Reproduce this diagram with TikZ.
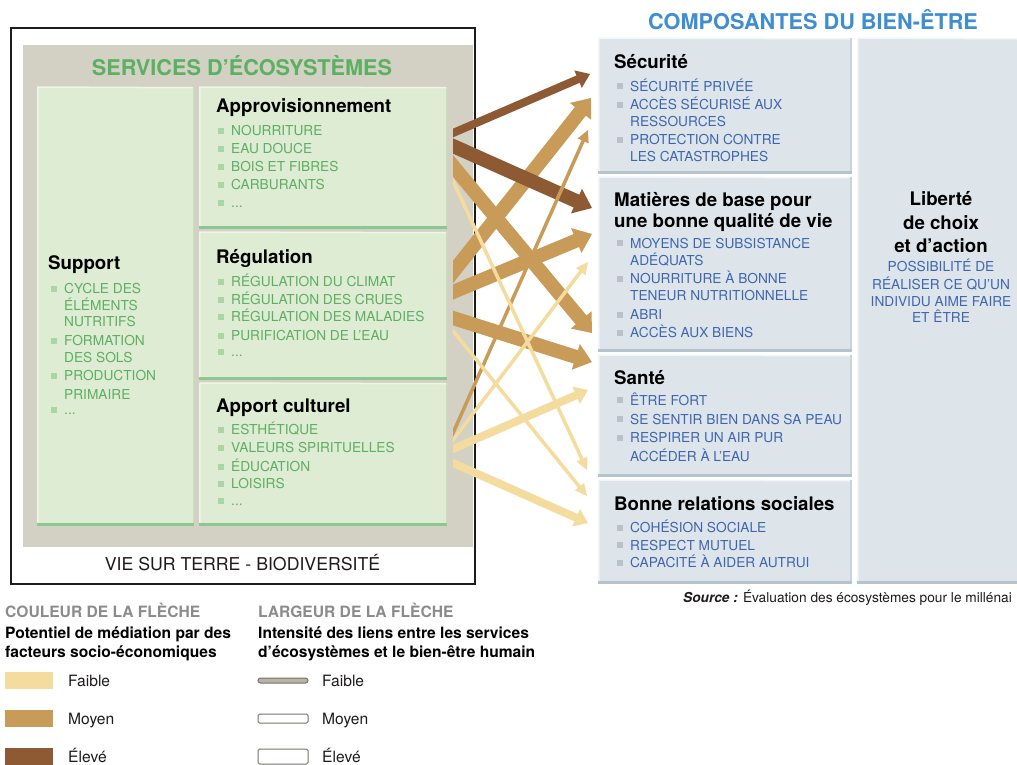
\documentclass[tikz,border=0pt]{standalone}
\usepackage{fontspec}
\setmainfont{TeX Gyre Heros}
\usetikzlibrary{calc}

% palette
\definecolor{shellGrey}{HTML}{D3D1C4}
\definecolor{leafFill}{HTML}{DDECD3}
\definecolor{leafHi}{HTML}{EEF6E8}
\definecolor{leafSide}{HTML}{C8DEBE}
\definecolor{leafEdge}{HTML}{8CC78D}
\definecolor{leafText}{HTML}{5EAE63}
\definecolor{leafBullet}{HTML}{AAD6A4}
\definecolor{titleGreen}{HTML}{5CB062}
\definecolor{skyFill}{HTML}{DEE5EA}
\definecolor{skyHi}{HTML}{F3F6F8}
\definecolor{skySide}{HTML}{C9D3DA}
\definecolor{skyEdge}{HTML}{B5C3CC}
\definecolor{skyText}{HTML}{3E66AF}
\definecolor{skyBullet}{HTML}{B8C3C9}
\definecolor{titleBlue}{HTML}{3F8ED1}
\definecolor{linkLow}{HTML}{F3DC9E}
\definecolor{linkMid}{HTML}{C99B58}
\definecolor{linkHigh}{HTML}{8E5A33}
\definecolor{legendGrey}{HTML}{8B8B8B}
\definecolor{inkDark}{HTML}{1E1B1A}
\definecolor{barFill}{HTML}{B9B3A5}
\definecolor{barLine}{HTML}{77726A}

\newcommand\etcdots{...}

% raised-panel edges of a box node
\newcommand\leafbevel[1]{%
  \draw[leafHi, line width=1.5pt] ([xshift=.75pt]#1.south west) -- ([xshift=.75pt]#1.north west) -- ([yshift=-.75pt]#1.north east);
  \draw[leafSide, line width=1.5pt] ([xshift=-.75pt]#1.north east) -- ([xshift=-.75pt]#1.south east);
  \draw[leafEdge, line width=3.5pt] ([yshift=1.75pt]#1.south west) -- ([yshift=1.75pt]#1.south east);
}
\newcommand\skybevel[1]{%
  \draw[skyHi, line width=1.5pt] ([xshift=.75pt]#1.south west) -- ([xshift=.75pt]#1.north west) -- ([yshift=-.75pt]#1.north east);
  \draw[skySide, line width=2pt] ([xshift=-1pt]#1.north east) -- ([xshift=-1pt]#1.south east);
  \draw[skyEdge, line width=3pt] ([yshift=1.5pt]#1.south west) -- ([yshift=1.5pt]#1.south east);
}

% bulleted list: name prefix, text x, palette (leaf/sky), entries y/text/bullet
\newcommand\itemlist[4]{%
  \foreach \yy/\txt/\bul [count=\k] in {#4} {
    \node[#3item] (#1-\k) at (#2,\yy) {\txt};
    \ifnum\bul=1 \fill[#3bullet] ($(#1-\k.west)+(-13,-3)$) rectangle ++(6,6); \fi
  }
}

% arrow from s<idx> to t<idx>: idx, colour, shaft width, head length, head half width, shaft stop
\newcommand\flow[6]{%
  \draw[#2, line width=#3] ($(s#1)!-0.08!(t#1)$) -- ($(t#1)!#6!(s#1)$);
  \fill[#2] (t#1) -- ($(t#1)!#4!(s#1)!#5!90:(t#1)$) -- ($(t#1)!#4!(s#1)!#5!-90:(t#1)$) -- cycle;
}
\newcommand\flowwide[2]{\flow{#1}{#2}{14pt}{17pt}{13.5pt}{16pt}}
\newcommand\flowmid[2]{\flow{#1}{#2}{8pt}{13pt}{9.5pt}{12pt}}
\newcommand\flowthin[2]{\flow{#1}{#2}{3.5pt}{12pt}{6pt}{11pt}}

\tikzset{
  leafbox/.style={fill=leafFill, anchor=north west, inner sep=0pt, outer sep=0pt},
  skybox/.style={fill=skyFill, anchor=north west, inner sep=0pt, outer sep=0pt},
  itemtext/.style={anchor=west, inner sep=0pt, font=\fontsize{13.7}{16}\selectfont, text height=9.9pt, text depth=0pt},
  leafitem/.style={itemtext, text=leafText},
  skyitem/.style={itemtext, text=skyText},
  leafbullet/.style={fill=leafBullet},
  skybullet/.style={fill=skyBullet},
  headtext/.style={anchor=west, inner sep=0pt, text=black, font=\fontsize{18.7}{22}\selectfont\bfseries, text height=13.4pt, text depth=0pt},
  bigtitle/.style={inner sep=0pt, font=\fontsize{21.7}{25}\selectfont\bfseries, text height=15.6pt, text depth=0pt},
  legendhead/.style={anchor=west, inner sep=0pt, font=\fontsize{15.6}{18}\selectfont\bfseries, text height=11.2pt, text depth=0pt},
  legendtext/.style={anchor=west, inner sep=0pt, text=inkDark, font=\fontsize{15.6}{18}\selectfont, text height=11.2pt, text depth=0pt},
  swatch/.style={inner sep=0pt, minimum width=48pt, minimum height=17pt},
  widthbar/.style={inner sep=0pt, minimum width=50pt, line width=1pt, draw=barLine}
}

\begin{document}
\begin{tikzpicture}[x=1pt,y=-1pt]
\useasboundingbox (0,0) rectangle (1017,764);
\fill[white] (0,0) rectangle (1017,764);

% ---------- ecosystem services ----------
\node[fill=shellGrey, anchor=north west, inner sep=0pt, minimum width=450pt, minimum height=502pt] (services) at (23,45) {};
\node[leafbox, minimum width=157pt, minimum height=439pt] (support) at (37,87) {};
\node[leafbox, minimum width=248pt, minimum height=142pt] (appro) at (199,87) {};
\node[leafbox, minimum width=248pt, minimum height=148pt] (regul) at (199,232) {};
\node[leafbox, minimum width=248pt, minimum height=143pt] (culture) at (199,383) {};
\leafbevel{support}
\leafbevel{appro}
\leafbevel{regul}
\leafbevel{culture}

\node[draw=inkDark, line width=2pt, anchor=north west, inner sep=0pt, minimum width=463.5pt, minimum height=556pt] (lifeframe) at (10.2,26.7) {};

\node[bigtitle, text=titleGreen] (servicesTitle) at (242,67.7) {SERVICES D’ÉCOSYSTÈMES};
\node[inner sep=0pt, text=inkDark, font=\fontsize{17.7}{20}\selectfont, text height=12.7pt, text depth=0pt] (lifeTitle) at (242.5,564) {VIE SUR TERRE - BIODIVERSITÉ};

\node[headtext] (supportHead) at (48,262.5) {Support};
\node[headtext] (approHead) at (216,106) {Approvisionnement};
\node[headtext] (regulHead) at (216,256.5) {Régulation};
\node[headtext] (cultureHead) at (216,406) {Apport culturel};

\itemlist{sup}{64}{leaf}{289/CYCLE DES/1, 305.5/ÉLÉMENTS/0, 322/NUTRITIFS/0, 341/FORMATION/1, 358/DES SOLS/0, 376/PRODUCTION/1, 395/PRIMAIRE/0, 410/\etcdots/1}
\itemlist{apr}{231}{leaf}{130.5/NOURRITURE/1, 149/EAU DOUCE/1, 167/BOIS ET FIBRES/1, 184.5/CARBURANTS/1, 203/\etcdots/1}
\itemlist{reg}{231}{leaf}{282/RÉGULATION DU CLIMAT/1, 300/RÉGULATION DES CRUES/1, 317/RÉGULATION DES MALADIES/1, 335.5/PURIFICATION DE L'EAU/1, 352/\etcdots/1}
\itemlist{cul}{231}{leaf}{430/ESTHÉTIQUE/1, 448/VALEURS SPIRITUELLES/1, 466.5/ÉDUCATION/1, 484/LOISIRS/1, 501/\etcdots/1}

% ---------- components of well-being ----------
\node[bigtitle, text=titleBlue] (wellTitle) at (813,21.3) {COMPOSANTES DU BIEN-ÊTRE};

\node[skybox, minimum width=254pt, minimum height=136pt] (security) at (598,38) {};
\node[skybox, minimum width=254pt, minimum height=175pt] (material) at (598,177) {};
\node[skybox, minimum width=254pt, minimum height=122pt] (health) at (598,355) {};
\node[skybox, minimum width=254pt, minimum height=104pt] (social) at (598,480) {};
\node[skybox, minimum width=160pt, minimum height=546pt] (freedom) at (857,38) {};
\skybevel{security}
\skybevel{material}
\skybevel{health}
\skybevel{social}
\draw[skyHi, line width=1.5pt] ([xshift=.75pt]freedom.south west) -- ([xshift=.75pt]freedom.north west) -- ([yshift=-.75pt]freedom.north east);
\draw[skyEdge, line width=3pt] ([yshift=1.5pt]freedom.south west) -- ([yshift=1.5pt]freedom.south east);

\node[headtext] (securityHead) at (614,61.7) {Sécurité};
\node[headtext] (materialHeadA) at (614,200) {Matières de base pour};
\node[headtext] (materialHeadB) at (614,221) {une bonne qualité de vie};
\node[headtext] (healthHead) at (614,377.5) {Santé};
\node[headtext] (socialHead) at (614,504) {Bonne relations sociales};

\itemlist{sec}{630}{sky}{86.3/SÉCURITÉ PRIVÉE/1, 104.7/ACCÈS SÉCURISÉ AUX/1, 121.3/RESSOURCES/0, 140/PROTECTION CONTRE/1, 157/LES CATASTROPHES/0}
\itemlist{mat}{630}{sky}{243.3/MOYENS DE SUBSISTANCE/1, 260.3/ADÉQUATS/0, 279/NOURRITURE À BONNE/1, 296/TENEUR NUTRITIONNELLE/0, 314.5/ABRI/1, 332.7/ACCÈS AUX BIENS/1}
\itemlist{hea}{630}{sky}{400.3/ÊTRE FORT/1, 419.3/SE SENTIR BIEN DANS SA PEAU/1, 437.7/RESPIRER UN AIR PUR/1, 456.3/ACCÉDER À L'EAU/0}
\itemlist{soc}{630}{sky}{528/COHÉSION SOCIALE/1, 545.3/RESPECT MUTUEL/1, 563/CAPACITÉ À AIDER AUTRUI/1}

\node[headtext, anchor=center] (freedomA) at (941,199) {Liberté};
\node[headtext, anchor=center] (freedomB) at (941,222.5) {de choix};
\node[headtext, anchor=center] (freedomC) at (941,246) {et d'action};
\node[skyitem, anchor=center] (freedomD) at (941,266.3) {POSSIBILITÉ DE};
\node[skyitem, anchor=center] (freedomE) at (941,284.7) {RÉALISER CE QU'UN};
\node[skyitem, anchor=center] (freedomF) at (941,301.3) {INDIVIDU AIME FAIRE};
\node[skyitem, anchor=center] (freedomG) at (941,318) {ET ÊTRE};

\node[itemtext, text=inkDark] (sourceNote) at (683,598) {\textbf{\textit{Source :}} Évaluation des écosystèmes pour le millénai};

% ---------- links ----------
\coordinate (s1) at (453,133);  \coordinate (t1) at (590,74);
\coordinate (s2) at (453,146);  \coordinate (t2) at (592,208);
\coordinate (s3) at (453,166);  \coordinate (t3) at (592,333);
\coordinate (s4) at (453,181);  \coordinate (t4) at (587,470);
\coordinate (s5) at (453,272);  \coordinate (t5) at (591,98);
\coordinate (s6) at (453,292);  \coordinate (t6) at (592,234);
\coordinate (s7) at (453,318);  \coordinate (t7) at (592,362);
\coordinate (s8) at (453,331);  \coordinate (t8) at (587,496);
\coordinate (s9) at (453,433);  \coordinate (t9) at (588,130);
\coordinate (s10) at (453,440); \coordinate (t10) at (588,262);
\coordinate (s11) at (453,449); \coordinate (t11) at (588,390);
\coordinate (s12) at (453,463); \coordinate (t12) at (588,523);

\begin{scope}
  \clip (453,0) rectangle (1017,764);
  \flowwide{3}{linkMid}
  \flowwide{5}{linkMid}
  \flowwide{6}{linkMid}
  \flowwide{7}{linkMid}
  \flowwide{2}{linkHigh}
  \flowmid{1}{linkHigh}
  \flowthin{9}{linkMid}
  \flowthin{4}{linkLow}
  \flowthin{8}{linkLow}
  \flowthin{10}{linkLow}
  \flowmid{11}{linkLow}
  \flowmid{12}{linkLow}
\end{scope}

% ---------- legend ----------
\node[legendhead, text=legendGrey] (colourHead) at (5,612) {COULEUR DE LA FLÈCHE};
\node[legendhead] (colourSubA) at (5,633) {Potentiel de médiation par des};
\node[legendhead] (colourSubB) at (5,651.5) {facteurs socio-économiques};
\node[swatch, fill=linkLow] (swatchLow) at (29,680.5) {};
\node[swatch, fill=linkMid] (swatchMid) at (29,718.5) {};
\node[swatch, fill=linkHigh] (swatchHigh) at (29,756.5) {};
\node[legendtext] (colourLow) at (68,680.5) {Faible};
\node[legendtext] (colourMid) at (68,718.5) {Moyen};
\node[legendtext] (colourHigh) at (68,756.5) {Élevé};

\node[legendhead, text=legendGrey] (widthHead) at (258,612) {LARGEUR DE LA FLÈCHE};
\node[legendhead] (widthSubA) at (258,633) {Intensité des liens entre les services};
\node[legendhead] (widthSubB) at (258,651.5) {d'écosystèmes et le bien-être humain};
\node[widthbar, minimum height=5pt, fill=barFill, rounded corners=2.5pt] (barLow) at (283,680.5) {};
\node[widthbar, minimum height=9pt, fill=white, rounded corners=1.5pt] (barMid) at (283,718.5) {};
\node[widthbar, minimum height=15pt, fill=white, rounded corners=1.5pt] (barHigh) at (283,756.5) {};
\node[legendtext] (widthLow) at (322,680.5) {Faible};
\node[legendtext] (widthMid) at (322,718.5) {Moyen};
\node[legendtext] (widthHigh) at (322,756.5) {Élevé};
\end{tikzpicture}
\end{document}
